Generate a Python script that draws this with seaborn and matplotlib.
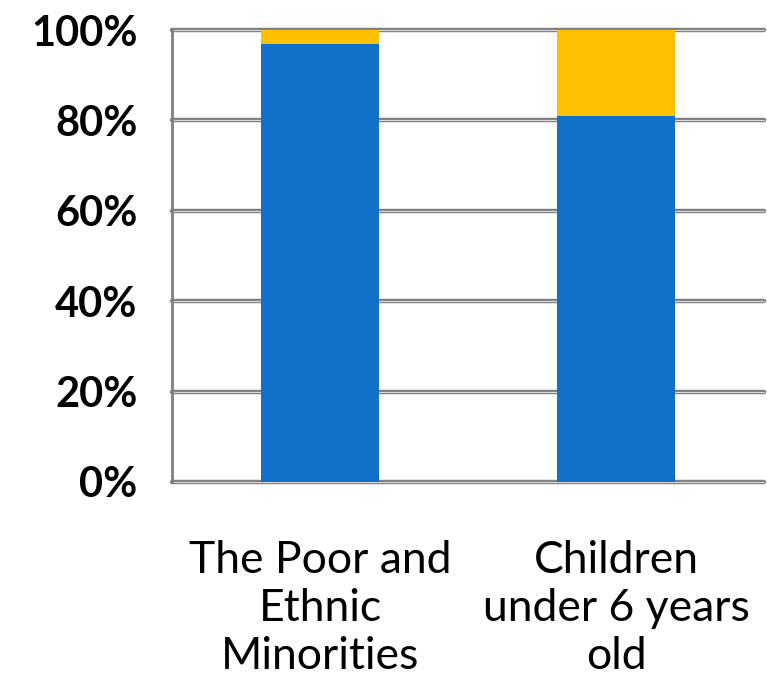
import matplotlib
matplotlib.use("Agg")
import matplotlib.pyplot as plt
import seaborn as sns
import pandas as pd

# data
categories = ["The Poor and\nEthnic\nMinorities", "Children\nunder 6 years\nold"]
blue_share = [97, 81]
yellow_share = [3, 19]

df = pd.DataFrame({"category": categories,
                   "blue": blue_share,
                   "total": [b + y for b, y in zip(blue_share, yellow_share)]})

sns.set_style("white")
plt.rcParams["font.family"] = ["Lato", "DejaVu Sans"]

fig = plt.figure(figsize=(7.67, 6.95), dpi=100)
ax = fig.add_axes([0.2243, 0.3065, 0.7717, 0.6503])

# stacked: draw the total in yellow first, blue share on top
sns.barplot(data=df, x="category", y="total", color="#FFC000",
            width=0.40, saturation=1, linewidth=0, ax=ax, zorder=3)
sns.barplot(data=df, x="category", y="blue", color="#1170C8",
            width=0.40, saturation=1, linewidth=0, ax=ax, zorder=4)

ax.set_ylim(0, 100)
ax.set_xlim(-0.5, 1.5)
yticks = [0, 20, 40, 60, 80, 100]
ax.set_yticks(yticks)
ax.set_yticklabels([f"{t}%" for t in yticks], fontsize=30, fontweight="bold")
ax.tick_params(axis="y", length=15, width=3, color="#7f7f7f", pad=10,
               labelcolor="black")

# double grid lines
for t in yticks:
    ax.axhline(t, color="#7f7f7f", lw=3.2, zorder=1, clip_on=False)
    ax.axhline(t, color="#d9d9d9", lw=0.8, zorder=2, clip_on=False)

ax.set_xticks([0, 1])
ax.set_xticklabels(categories, fontsize=32, linespacing=1.2)
ax.tick_params(axis="x", length=0, pad=42, labelcolor="black")
ax.set_xticks([-0.5, 0.5, 1.5], minor=True)
ax.tick_params(axis="x", which="minor", length=15, width=2, color="#7f7f7f")

ax.set_xlabel("")
ax.set_ylabel("")
for s in ["top", "right", "bottom"]:
    ax.spines[s].set_visible(False)
ax.spines["left"].set_color("#7f7f7f")
ax.spines["left"].set_linewidth(2)
ax.spines["left"].set_zorder(5)

plt.savefig("out.png", dpi=100)
